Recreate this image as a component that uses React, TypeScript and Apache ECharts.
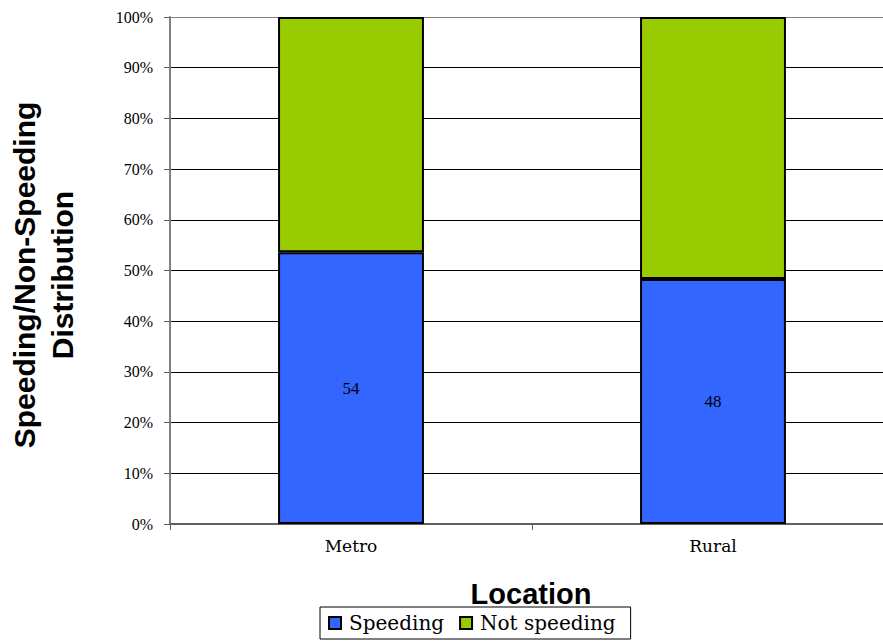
import React, { useEffect, useRef } from "react";
import * as echarts from "echarts";

const categories = ["Metro", "Rural"];
const speeding = [53.6, 48.3];
const notSpeeding = [46.4, 51.7];
const seriesNames = ["Speeding", "Not speeding"];
const yTitle = "Speeding/Non-Speeding\nDistribution";
const xTitle = "Location";

export default function App() {
  const ref = useRef<HTMLDivElement>(null);
  useEffect(() => {
    if (!ref.current) return;
    const chart = echarts.init(ref.current, null, { renderer: "svg" });
    const splitColors = [
      "#000", "#000", "#000", "#000", "#000", "#000", "#000", "#000", "#000", "#000", "#808080",
    ];
    chart.setOption({
      animation: false,
      backgroundColor: "#fff",
      grid: { left: 170, top: 17, right: 6, bottom: 118, containLabel: false },
      legend: {
        left: 320,
        top: 607,
        orient: "horizontal",
        padding: [6, 15, 6, 8],
        itemWidth: 12,
        itemHeight: 12,
        itemGap: 15,
        borderColor: "#000",
        borderWidth: 1,
        icon: "rect",
        data: seriesNames,
        textStyle: {
          fontFamily: "DejaVu Serif",
          fontSize: 20,
          color: "#000",
          padding: [0, 0, 0, 3],
        },
      },
      xAxis: {
        type: "category",
        data: categories,
        axisLine: { show: true, lineStyle: { color: "#606060", width: 2 } },
        axisTick: { show: true, alignWithLabel: false, length: 6, lineStyle: { color: "#606060" } },
        axisLabel: {
          margin: 13,
          fontFamily: "DejaVu Serif",
          fontSize: 17,
          color: "#000",
        },
        splitLine: { show: false },
      },
      yAxis: {
        type: "value",
        min: 0,
        max: 100,
        interval: 10,
        axisLine: { show: true, lineStyle: { color: "#808080", width: 2 } },
        axisTick: { show: true, length: 6, lineStyle: { color: "#606060" } },
        axisLabel: {
          margin: 17,
          formatter: "{value}%",
          fontFamily: "Liberation Serif",
          fontSize: 16,
          color: "#000",
        },
        splitLine: { show: true, lineStyle: { color: splitColors, width: 1 } },
      },
      series: [
        {
          name: seriesNames[0],
          type: "bar",
          stack: "total",
          barWidth: "40.3%",
          data: speeding,
          itemStyle: { color: "#3366FF", borderColor: "#000", borderWidth: 2 },
          label: {
            show: true,
            position: "inside",
            formatter: (p: any) => String(Math.round(p.value)),
            fontFamily: "Liberation Serif",
            fontSize: 17,
            color: "#000",
          },
        },
        {
          name: seriesNames[1],
          type: "bar",
          stack: "total",
          barWidth: "40.3%",
          data: notSpeeding,
          itemStyle: { color: "#99CC00", borderColor: "#000", borderWidth: 2 },
        },
      ],
      graphic: [
        {
          type: "text",
          x: 43,
          y: 275,
          rotation: Math.PI / 2,
          style: {
            text: yTitle,
            font: "bold 30px 'Liberation Sans', Arial, sans-serif",
            lineHeight: 38,
            textAlign: "center",
            textVerticalAlign: "middle",
            fill: "#000",
          },
        },
        {
          type: "text",
          x: 531,
          y: 594,
          style: {
            text: xTitle,
            font: "bold 29px 'Liberation Sans', Arial, sans-serif",
            textAlign: "center",
            textVerticalAlign: "middle",
            fill: "#000",
          },
        },
      ],
    });
    return () => chart.dispose();
  }, []);
  return (
    <div
      style={{ position: "absolute", left: 0, top: 0, width: 883, height: 642, overflow: "hidden" }}
    >
      <div ref={ref} style={{ width: 900, height: 642 }} />
    </div>
  );
}
